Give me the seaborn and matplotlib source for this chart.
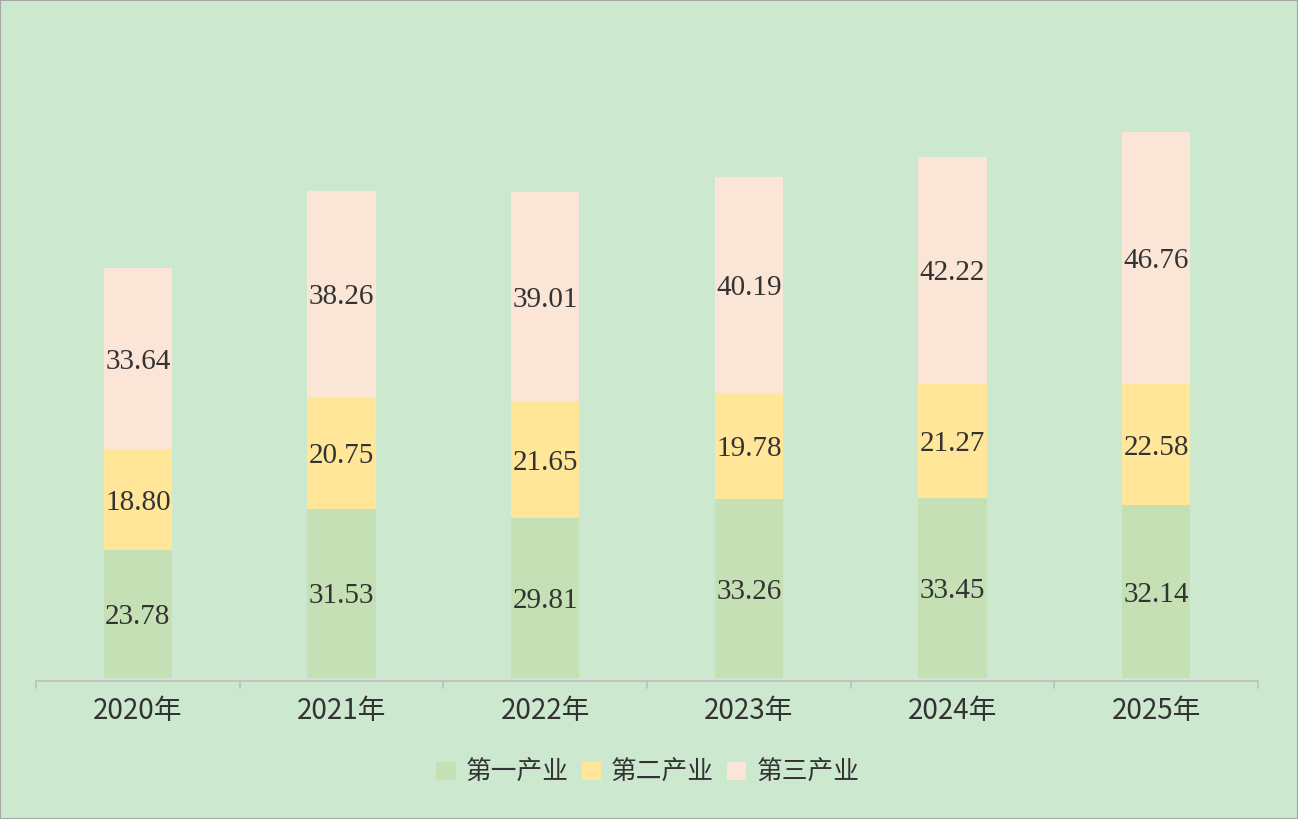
import matplotlib
matplotlib.use("Agg")
import matplotlib.pyplot as plt
import seaborn as sns
import pandas as pd
import numpy as np
from matplotlib.patches import Patch

years = ["2020年", "2021年", "2022年", "2023年", "2024年", "2025年"]
primary = [23.78, 31.53, 29.81, 33.26, 33.45, 32.14]
secondary = [18.80, 20.75, 21.65, 19.78, 21.27, 22.58]
tertiary = [33.64, 38.26, 39.01, 40.19, 42.22, 46.76]
series_names = ["第一产业", "第二产业", "第三产业"]
colors = ["#c5e0b4", "#ffe699", "#fbe5d6"]

bg = "#cce8cf"
sns.set_theme(style="white")
plt.rcParams["font.family"] = ["Noto Sans CJK SC", "DejaVu Sans"]

fig = plt.figure(figsize=(12.98, 8.19), dpi=100, facecolor=bg)
ax = fig.add_axes([36 / 1298, (819 - 681) / 819, 1222 / 1298, 640 / 819])
ax.set_facecolor(bg)

df = pd.DataFrame({"year": years, "p": primary, "s": secondary, "t": tertiary})
bottoms = np.zeros(len(years))
for k, (col, name, c) in enumerate(zip(["p", "s", "t"], series_names, colors)):
    sns.barplot(x=df["year"], y=df[col] + bottoms, ax=ax, color=c, width=0.335,
                saturation=1, linewidth=0, edgecolor="none", zorder=-k)
    for i, v in enumerate(df[col]):
        ax.annotate(f"{v:.2f}", (i, bottoms[i] + v / 2), xytext=(0, -3),
                    textcoords="offset pixels", ha="center", va="center",
                    fontsize=21, family="Liberation Serif", color="#333333")
    bottoms = bottoms + df[col].values

ax.set_ylim(-0.55, 118.5)
ax.set_xlim(-0.5, len(years) - 0.5)
ax.set_xlabel("")
ax.set_ylabel("")
ax.set_yticks([])
for s in ["top", "right", "left"]:
    ax.spines[s].set_visible(False)
ax.spines["bottom"].set_color("#bfbfbf")
ax.spines["bottom"].set_linewidth(1.2)
ax.spines["bottom"].set_position(("data", -0.55))
ax.set_xticks(np.arange(len(years)))
ax.set_xticklabels(years, fontsize=20, color="#333333")
ax.tick_params(axis="x", length=0, pad=11)
for b in np.arange(-0.5, len(years)):
    ax.plot([b, b], [-0.55, -1.9], color="#bfbfbf", lw=1.2, clip_on=False)

handles = [Patch(facecolor=c, edgecolor="none") for c in colors]
fig.legend(handles, series_names, loc="center", bbox_to_anchor=(648 / 1298, 1 - 773 / 819),
           ncol=3, frameon=False, fontsize=18.5, handlelength=0.75, handleheight=0.75,
           handletextpad=0.4, columnspacing=0.5, labelcolor="#333333")

fig.patches.append(plt.Rectangle((0, 0), 1, 1, transform=fig.transFigure, fill=False,
                                 edgecolor="#a6a6a6", lw=1.5))
fig.savefig("out.png", dpi=100, facecolor=bg)
